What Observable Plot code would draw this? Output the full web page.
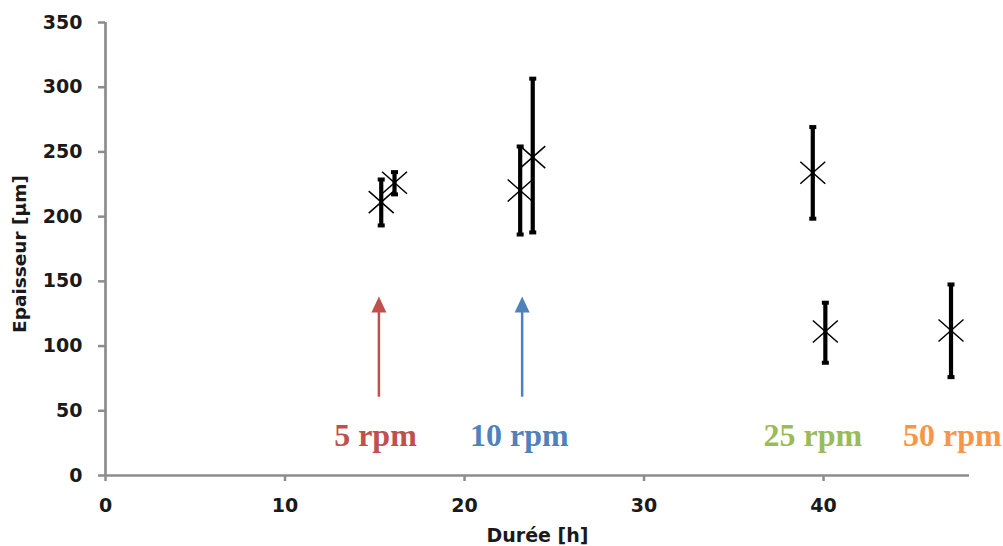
<!DOCTYPE html>
<html>
<head>
<meta charset="utf-8">
<script src="https://cdn.jsdelivr.net/npm/d3@7"></script>
<script src="https://cdn.jsdelivr.net/npm/@observablehq/plot@0.6"></script>
<style>
  html, body { margin: 0; padding: 0; background: white; }
</style>
</head>
<body>
<div id="chart"></div>
<script>
// ---- data ----
const duree      = [15.36, 16.1, 23.1, 23.8, 39.4, 40.1, 47.1];
const epaisseur  = [211.2, 226.2, 220.2, 246.0, 233.9, 111.3, 112.0];
const errLow     = [193.2, 217.2, 186.2, 187.8, 198.4, 87.1, 76.0];
const errHigh    = [228.7, 234.4, 254.2, 306.6, 269.2, 133.5, 147.6];

const speedLabels = ["5 rpm", "10 rpm", "25 rpm", "50 rpm"];
const speedLabelX = [15.04, 23.05, 39.4, 47.17];
const speedLabelY = [30.7, 30.7, 30.7, 30.7];
const speedColors = ["#C0504D", "#4F81BD", "#9BBB59", "#F79646"];

const arrowX     = [15.23, 23.21];
const arrowFrom  = [60.5, 60.5];
const arrowTo    = [138.3, 138.3];
const arrowColors = ["#C0504D", "#4F81BD"];

const xTicks = [0, 10, 20, 30, 40];
const yTicks = [0, 50, 100, 150, 200, 250, 300, 350];
const xLabel = "Durée [h]";
const yLabel = "Epaisseur [µm]";

// ---- tables built from the arrays ----
const points = duree.map((x, i) => ({x, y: epaisseur[i], lo: errLow[i], hi: errHigh[i]}));
const labels = speedLabels.map((t, i) => ({t, x: speedLabelX[i], y: speedLabelY[i], c: speedColors[i]}));
const arrows = arrowX.map((x, i) => ({x, y1: arrowFrom[i], y2: arrowTo[i], c: arrowColors[i]}));

// ---- custom symbols ----
const crossSymbol = {
  draw(ctx) {
    const w = 12.5, h = 11;
    ctx.moveTo(-w, -h); ctx.lineTo(w, h);
    ctx.moveTo(-w, h); ctx.lineTo(w, -h);
  }
};
const capSymbol = {
  draw(ctx) { ctx.rect(-3.5, -2, 7, 4); }
};
const headSymbol = {
  draw(ctx) {
    ctx.moveTo(0, 0); ctx.lineTo(7.5, 16); ctx.lineTo(-7.5, 16); ctx.closePath();
  }
};

const axisColor = "#8c8c8c";
const textColor = "#1a1a1a";

const chart = Plot.plot({
  width: 1003,
  height: 546,
  marginLeft: 105,
  marginRight: 34,
  marginTop: 22,
  marginBottom: 71,
  x: {domain: [0, 48.13]},
  y: {domain: [0, 350]},
  style: {fontFamily: "DejaVu Sans", background: "white", overflow: "visible"},
  marks: [
    Plot.axisY({ticks: yTicks, tickSize: 7, tickPadding: 16, stroke: axisColor, strokeWidth: 2.5,
                fill: textColor, fontSize: 19, fontWeight: "bold", label: null}),
    Plot.axisX({ticks: xTicks, tickSize: 6, tickPadding: 17, stroke: axisColor, strokeWidth: 2.5,
                fill: textColor, fontSize: 19, fontWeight: "bold", label: null}),
    Plot.ruleX([0], {stroke: axisColor, strokeWidth: 2.7}),
    Plot.ruleY([0], {stroke: axisColor, strokeWidth: 2.7}),
    Plot.text([xLabel], {frameAnchor: "bottom", dy: 66, fontSize: 19, fontWeight: "bold", fill: textColor}),
    Plot.text([yLabel], {frameAnchor: "left", textAnchor: "middle", rotate: -90, dx: -85, dy: 5,
                         fontSize: 18.5, fontWeight: "bold", fill: textColor}),
    // error bars
    Plot.ruleX(points, {x: "x", y1: "lo", y2: "hi", stroke: "black", strokeWidth: 4.2}),
    Plot.dot(points, {x: "x", y: "lo", symbol: capSymbol, fill: "black", stroke: "none"}),
    Plot.dot(points, {x: "x", y: "hi", symbol: capSymbol, fill: "black", stroke: "none"}),
    // markers
    Plot.dot(points, {x: "x", y: "y", symbol: crossSymbol, fill: "none", stroke: "black", strokeWidth: 1.5}),
    // arrows
    Plot.ruleX(arrows, {x: "x", y1: "y1", y2: d => d.y2 - 8, stroke: "c", strokeWidth: 2.5}),
    Plot.dot(arrows, {x: "x", y: "y2", symbol: headSymbol, fill: "c", stroke: "none"}),
    // rpm labels
    Plot.text(labels, {x: "x", y: "y", text: "t", fill: "c", fontFamily: "Liberation Serif",
                       fontWeight: "bold", fontSize: 32, lineAnchor: "middle"})
  ]
});
document.getElementById("chart").appendChild(chart);
</script>
</body>
</html>
